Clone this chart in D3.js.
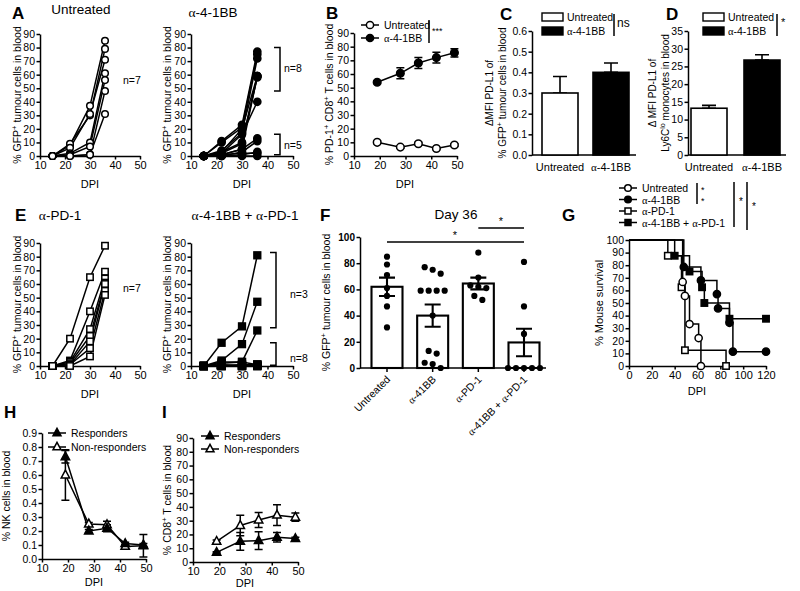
<!DOCTYPE html>
<html>
<head>
<meta charset="utf-8">
<script src="https://cdn.jsdelivr.net/npm/d3@7"></script>
<style>
  body { margin: 0; background: #fff; }
  svg { font-family: "Liberation Sans", Arial, sans-serif; }
</style>
</head>
<body>
<script>
// ---- data ----
const gfpDays = [15, 22, 30, 36];
const dpiTicks = [10, 20, 30, 40, 50];
const pctTicks = [0, 10, 20, 30, 40, 50, 60, 70, 80, 90];

const untreatedGfp = [
  [0, 8, 37, 85], [0, 9, 30, 79], [0, 6, 31, 71], [0, 2, 10, 61],
  [0, 1, 7, 56], [0, 0, 1, 48], [0, 0, 1, 31]
];
const a41bbGfp = [
  [0, 11, 23, 77], [0, 10, 21, 75], [0, 4, 17, 72], [0, 3, 20, 59],
  [0, 3, 10, 59], [0, 2, 9, 58], [0, 1, 5, 59], [0, 2, 16, 40],
  [0, 1, 5, 13], [0, 0, 3, 11], [0, 0, 1, 3], [0, 1, 2, 2], [0, 0, 0, 0]
];
const apd1Gfp = [
  [0, 20, 65, 88], [0, 4, 40, 69], [0, 3, 27, 64], [0, 2, 22, 61],
  [0, 1, 18, 60], [0, 1, 13, 55], [0, 0, 7, 52]
];
const comboGfp = [
  [0, 17, 29, 81], [0, 4, 16, 47], [0, 3, 3, 26], [0, 2, 3, 1],
  [0, 1, 0, 1], [0, 0, 1, 0], [0, 0, 0, 0], [0, 1, 0, 0],
  [0, 0, 0, 1], [0, 0, 1, 1], [0, 0, 0, 0]
];

const bloodDays = [19, 28, 35, 42, 49];
const pd1Untreated = [10, 6.5, 9, 5.5, 8];
const pd1UntreatedErr = [1, 0.8, 1, 0.8, 1];
const pd1A41bb = [54, 60.5, 68, 72, 75.5];
const pd1A41bbErr = [1, 4, 4, 4, 3];

const barGroups = ['Untreated', 'α-4-1BB'];
const pdl1Tumour = [0.30, 0.40];
const pdl1TumourErr = [0.08, 0.045];
const pdl1TumourTicks = [0, 0.1, 0.2, 0.3, 0.4, 0.5, 0.6];
const pdl1Mono = [13.2, 26.8];
const pdl1MonoErr = [0.8, 1.5];
const pdl1MonoTicks = [0, 5, 10, 15, 20, 25, 30, 35];

const day36Groups = ['Untreated', 'α-41BB', 'α-PD-1', 'α-41BB + α-PD-1'];
const day36Mean = [62, 40, 64.5, 19.5];
const day36Err = [7, 8.5, 4.5, 10.5];
const day36Points = [
  [85, 79, 71, 61, 55, 47, 31],
  [77, 75, 72, 59, 59, 59, 59, 40, 13, 11, 4, 3, 0],
  [88, 69, 63, 62, 61, 55, 52],
  [81, 47, 26, 0, 0, 0, 0, 0]
];
const day36Ticks = [0, 20, 40, 60, 80, 100];

const survTicks = [0, 20, 40, 60, 80, 100, 120];
const survPctTicks = [0, 10, 20, 30, 40, 50, 60, 70, 80, 90, 100];
const survUntreated = [[0, 100], [47, 66.7], [49, 55.6], [53, 33.3], [61, 22.2], [63, 0]];
const survA41bb = [[0, 100], [48, 78.6], [63, 67.9], [77, 57.1], [78, 45.7], [88, 34.3], [91, 11.4], [120, 11.4]];
const survApd1 = [[0, 100], [34, 87.5], [46, 62.5], [49, 12.5], [85, 0]];
const survCombo = [[0, 100], [40, 87.5], [53, 75], [64, 62.5], [66, 50], [88, 37.5], [120, 37.5]];

const nkTicks = [0, 0.1, 0.2, 0.3, 0.4, 0.5, 0.6, 0.7, 0.8, 0.9];
const nkResp = [0.73, 0.20, 0.22, 0.11, 0.10];
const nkRespErr = [0.045, 0.01, 0.025, 0.01, 0.01];
const nkNon = [0.60, 0.25, 0.245, 0.09, 0.095];
const nkNonErr = [0.18, 0.01, 0.025, 0.015, 0.08];

const cd8Resp = [7, 15, 15.5, 18, 17];
const cd8RespErr = [0.5, 6.5, 6.5, 3.5, 1];
const cd8Non = [15, 26.5, 30.5, 34, 32.5];
const cd8NonErr = [1, 7.5, 5.5, 7.5, 3];

// ---- drawing helpers ----
const ink = '#000';
const small = 10.5;
const lw = 1.5;
const svg = d3.select('body').append('svg').attr('width', 800).attr('height', 591);

function txt(g, x, y, s, size, anchor, weight) {
  const t = g.append('text').attr('x', x).attr('y', y).attr('font-size', size)
    .attr('text-anchor', anchor || 'start').attr('fill', ink);
  if (weight) t.attr('font-weight', weight);
  s.split(/(α)/).forEach(p => {
    if (!p) return;
    const ts = t.append('tspan').text(p);
    if (p === 'α') ts.attr('font-family', '"Liberation Serif", serif');
  });
  return t;
}

// parts starting with ^ are superscript
function rich(g, x, y, parts, size, rotate) {
  const t = g.append('text').attr('font-size', size).attr('text-anchor', 'middle').attr('fill', ink)
    .attr('transform', `translate(${x},${y})` + (rotate ? ' rotate(-90)' : ''));
  let shift = 0;
  parts.forEach(p => {
    const sup = p.startsWith('^');
    const s = sup ? p.slice(1) : p;
    const target = sup ? -0.38 * size : 0;
    const ts = t.append('tspan').text(s).attr('dy', target - shift);
    if (sup) ts.attr('font-size', size * 0.72);
    shift = target;
  });
  return t;
}

function styleAxis(a, size, weight) {
  a.attr('font-family', null).attr('font-size', null);
  a.select('.domain').attr('stroke', ink).attr('stroke-width', lw);
  a.selectAll('.tick line').attr('stroke', ink).attr('stroke-width', lw);
  a.selectAll('.tick text').attr('font-size', size || small).attr('fill', ink).attr('font-weight', weight || null);
}

function yAxis(g, o, y) {
  const a = g.append('g').attr('transform', `translate(${o.left},0)`)
    .call(d3.axisLeft(y).tickValues(o.yTicks).tickFormat(o.yFormat || d3.format('d'))
      .tickSize(3.5).tickSizeOuter(0).tickPadding(1.5));
  styleAxis(a, o.yFont, o.yWeight);
}

function frame(o) {
  const g = svg.append('g');
  const x = d3.scaleLinear().domain(o.xDomain).range([o.left, o.right]);
  const y = d3.scaleLinear().domain(o.yDomain).range([o.bottom, o.top]);
  yAxis(g, o, y);
  const xa = g.append('g').attr('transform', `translate(0,${o.bottom})`)
    .call(d3.axisBottom(x).tickValues(o.xTicks).tickSize(3.5).tickSizeOuter(0).tickPadding(2));
  styleAxis(xa, 11);
  return { g, x, y };
}

function mark(g, shape, filled, cx, cy, r) {
  let m;
  if (shape === 'circle') {
    m = g.append('circle').attr('cx', cx).attr('cy', cy).attr('r', r);
  } else if (shape === 'square') {
    m = g.append('rect').attr('x', cx - r).attr('y', cy - r).attr('width', 2 * r).attr('height', 2 * r);
  } else {
    m = g.append('path').attr('d', `M${cx},${cy - r * 1.15}L${cx + r},${cy + r * 0.7}L${cx - r},${cy + r * 0.7}Z`);
  }
  m.attr('fill', filled ? ink : '#fff').attr('stroke', ink).attr('stroke-width', 1.5);
}

function errBar(g, cx, y0, y1, half, w) {
  g.append('path').attr('d', `M${cx},${y0}V${y1}M${cx - half},${y0}H${cx + half}M${cx - half},${y1}H${cx + half}`)
    .attr('fill', 'none').attr('stroke', ink).attr('stroke-width', w || lw);
}

function legendRow(g, x, y, shape, filled, r, label) {
  g.append('line').attr('x1', x - 9).attr('x2', x + 9).attr('y1', y).attr('y2', y)
    .attr('stroke', ink).attr('stroke-width', lw);
  mark(g, shape, filled, x, y, r);
  txt(g, x + 14, y + 4, label, small);
}

function sigBar(g, x, y0, y1, label, lx, ly, size) {
  g.append('line').attr('x1', x).attr('x2', x).attr('y1', y0).attr('y2', y1).attr('stroke', ink).attr('stroke-width', lw);
  txt(g, lx, ly, label, size || 10);
}

function bracket(g, x, y0, y1) {
  g.append('path').attr('d', `M${x - 6},${y0}H${x}V${y1}H${x - 6}`)
    .attr('fill', 'none').attr('stroke', ink).attr('stroke-width', lw);
}

const gfpLabel = ['% GFP', '^+', ' tumour cells in blood'];

function spaghetti(o, mice, shape, filled, r) {
  const f = frame(Object.assign({ xDomain: [10, 50], yDomain: [0, 90], xTicks: dpiTicks, yTicks: pctTicks }, o));
  const line = d3.line().x((d, i) => f.x(gfpDays[i])).y(d => f.y(d));
  mice.forEach(m => f.g.append('path').attr('d', line(m)).attr('fill', 'none').attr('stroke', ink).attr('stroke-width', lw));
  mice.forEach(m => m.forEach((v, i) => mark(f.g, shape, filled, f.x(gfpDays[i]), f.y(v), r)));
  rich(f.g, o.labelX, (o.top + o.bottom) / 2, gfpLabel, small, true);
  txt(f.g, (o.left + o.right) / 2, o.bottom + 32, 'DPI', 11, 'middle');
  return f;
}

function meanLines(f, series) {
  series.forEach(s => {
    const line = d3.line().x((d, i) => f.x(bloodDays[i])).y(d => f.y(d));
    f.g.append('path').attr('d', line(s.v)).attr('fill', 'none').attr('stroke', ink).attr('stroke-width', lw);
    s.v.forEach((v, i) => errBar(f.g, f.x(bloodDays[i]), f.y(v - s.e[i]), f.y(v + s.e[i]), 4));
  });
  series.forEach(s => s.v.forEach((v, i) => mark(f.g, s.shape, s.filled, f.x(bloodDays[i]), f.y(v), s.r)));
}

// ---- A ----
txt(svg, 12, 19, 'A', 17, 'start', 'bold');
txt(svg, 81, 14, 'Untreated', 13.5, 'middle');
txt(svg, 213, 17, 'α-4-1BB', 13.5, 'middle');
spaghetti({ left: 40, right: 140, top: 34, bottom: 156, labelX: 21 }, untreatedGfp, 'circle', false, 3.3);
txt(svg, 123, 84, 'n=7', small);
{
  const f = spaghetti({ left: 191, right: 293, top: 34, bottom: 156, labelX: 171 }, a41bbGfp, 'circle', true, 3.6);
  bracket(f.g, 280, f.y(80), f.y(48));
  bracket(f.g, 280, f.y(16), f.y(1));
  txt(f.g, 284, 72, 'n=8', small);
  txt(f.g, 284, 149, 'n=5', small);
}

// ---- B ----
txt(svg, 326, 19, 'B', 17, 'start', 'bold');
{
  const o = { left: 354, right: 457, top: 33, bottom: 156, xDomain: [10, 50], yDomain: [0, 90], xTicks: dpiTicks, yTicks: pctTicks };
  const f = frame(o);
  meanLines(f, [
    { v: pd1Untreated, e: pd1UntreatedErr, shape: 'circle', filled: false, r: 3.8 },
    { v: pd1A41bb, e: pd1A41bbErr, shape: 'circle', filled: true, r: 3.8 }
  ]);
  rich(f.g, 333, (o.top + o.bottom) / 2, ['% PD-1', '^+', ' CD8', '^+', ' T cells in blood'], small, true);
  txt(f.g, 405, 188, 'DPI', 11, 'middle');
  legendRow(f.g, 370, 25, 'circle', false, 3.6, 'Untreated');
  legendRow(f.g, 370, 38, 'circle', true, 3.6, 'α-4-1BB');
  sigBar(f.g, 429, 20, 43, '***', 432, 34, 9);
}

// ---- C & D (bar pairs) ----
function barPair(o, vals, errs) {
  const g = svg.append('g');
  const x = d3.scalePoint().domain(barGroups).range(o.centers);
  const y = d3.scaleLinear().domain(o.yDomain).range([o.bottom, o.top]);
  yAxis(g, o, y);
  g.append('line').attr('x1', o.left).attr('x2', o.right).attr('y1', o.bottom).attr('y2', o.bottom)
    .attr('stroke', ink).attr('stroke-width', lw);
  barGroups.forEach((gr, i) => {
    const cx = x(gr);
    errBar(g, cx, y(vals[i]), y(vals[i] + errs[i]), 7, 1.6);
    g.append('rect').attr('x', cx - 18).attr('width', 36).attr('y', y(vals[i])).attr('height', o.bottom - y(vals[i]))
      .attr('fill', i ? ink : '#fff').attr('stroke', ink).attr('stroke-width', 1.6);
    txt(g, cx, o.bottom + 16, gr, 11, 'middle');
  });
  barGroups.forEach((gr, i) => {
    g.append('rect').attr('x', o.legX).attr('y', 13 + i * 14).attr('width', 21).attr('height', 8)
      .attr('fill', i ? ink : '#fff').attr('stroke', ink).attr('stroke-width', 1.4);
    txt(g, o.legX + 25, 21 + i * 14, gr, small);
  });
  return { g, x, y };
}

txt(svg, 500, 20, 'C', 17, 'start', 'bold');
{
  const o = { left: 532, right: 636, top: 31, bottom: 155, centers: [560, 611], yDomain: [0, 0.6], yTicks: pdl1TumourTicks, yFormat: d3.format('.1f'), legX: 542 };
  const f = barPair(o, pdl1Tumour, pdl1TumourErr);
  txt(f.g, 493, 0, 'ΔMFI PD-L1 of', 10, 'middle').attr('transform', `rotate(-90,493,0) translate(${-93},0)`);
  rich(f.g, 506, 93, gfpLabel, 10, true);
  sigBar(f.g, 614, 14, 36, 'ns', 617, 27, 12);
}

txt(svg, 666, 20, 'D', 17, 'start', 'bold');
{
  const o = { left: 688, right: 786, top: 31, bottom: 155, centers: [709, 762], yDomain: [0, 35], yTicks: pdl1MonoTicks, legX: 703 };
  const f = barPair(o, pdl1Mono, pdl1MonoErr);
  txt(f.g, 656, 0, 'Δ MFI PD-L1 of', 10, 'middle').attr('transform', `rotate(-90,656,0) translate(${-93},0)`);
  rich(f.g, 669, 93, ['Ly6C', '^lo', ' monocytes in blood'], 10, true);
  sigBar(f.g, 777, 14, 36, '*', 781, 26, 11);
}

// ---- E ----
txt(svg, 15, 221, 'E', 17, 'start', 'bold');
txt(svg, 60, 220, 'α-PD-1', 13.5, 'middle');
txt(svg, 245, 220, 'α-4-1BB + α-PD-1', 13.5, 'middle');
spaghetti({ left: 40, right: 140, top: 243, bottom: 366, labelX: 21 }, apd1Gfp, 'square', false, 3.2);
txt(svg, 123, 292, 'n=7', small);
{
  const f = spaghetti({ left: 191, right: 293, top: 243, bottom: 366, labelX: 171 }, comboGfp, 'square', true, 3.4);
  bracket(f.g, 276, f.y(83), f.y(28));
  bracket(f.g, 276, f.y(17), f.y(0.5));
  txt(f.g, 290, 298, 'n=3', small);
  txt(f.g, 290, 362, 'n=8', small);
}

// ---- F ----
txt(svg, 320, 221, 'F', 17, 'start', 'bold');
txt(svg, 456, 219, 'Day 36', 13.5, 'middle');
{
  const o = { left: 360, right: 546, top: 237, bottom: 368, yDomain: [0, 100], yTicks: day36Ticks, yWeight: 'bold', yFont: 10 };
  const g = svg.append('g');
  const x = d3.scalePoint().domain(day36Groups).range([387, 524]);
  const y = d3.scaleLinear().domain(o.yDomain).range([o.bottom, o.top]);
  yAxis(g, o, y);
  g.append('line').attr('x1', o.left).attr('x2', o.right).attr('y1', o.bottom).attr('y2', o.bottom)
    .attr('stroke', ink).attr('stroke-width', 1.6);
  day36Groups.forEach((gr, i) => {
    const cx = x(gr);
    g.append('rect').attr('x', cx - 15.5).attr('width', 31).attr('y', y(day36Mean[i])).attr('height', o.bottom - y(day36Mean[i]))
      .attr('fill', '#fff').attr('stroke', ink).attr('stroke-width', 2.1);
    g.append('line').attr('x1', cx).attr('x2', cx).attr('y1', o.bottom).attr('y2', o.bottom + 4).attr('stroke', ink).attr('stroke-width', lw);
    // simple swarm: points closer than a dot diameter share a centred row
    const r = 3.1, step = 8;
    const rows = [];
    day36Points[i].slice().sort((a, b) => b - a).forEach(v => {
      const py = y(v);
      const row = rows[rows.length - 1];
      if (row && py - row[0] < 2 * r + 1) row.push(py); else rows.push([py]);
    });
    rows.forEach(row => row.forEach((py, k) => {
      g.append('circle').attr('cx', cx + (k - (row.length - 1) / 2) * step).attr('cy', py).attr('r', r).attr('fill', ink);
    }));
    errBar(g, cx, y(day36Mean[i] - day36Err[i]), y(day36Mean[i] + day36Err[i]), 8, 2.1);
    const lx = cx + 4, ly = o.bottom + 12;
    txt(g, lx, ly, gr, small, 'end').attr('transform', `rotate(-45,${lx},${ly})`);
  });
  rich(g, 330, (o.top + o.bottom) / 2, gfpLabel, small, true);
  g.append('line').attr('x1', x(day36Groups[0])).attr('x2', x(day36Groups[3])).attr('y1', 242).attr('y2', 242).attr('stroke', ink).attr('stroke-width', lw);
  g.append('line').attr('x1', x(day36Groups[2])).attr('x2', x(day36Groups[3])).attr('y1', 228).attr('y2', 228).attr('stroke', ink).attr('stroke-width', lw);
  txt(g, 455, 239, '*', 11, 'middle');
  txt(g, 501, 225, '*', 11, 'middle');
}

// ---- G ----
txt(svg, 562, 221, 'G', 17, 'start', 'bold');
{
  const o = { left: 629, right: 766, top: 240, bottom: 366, xDomain: [0, 120], yDomain: [0, 100], xTicks: survTicks, yTicks: survPctTicks };
  const f = frame(o);
  const step = d3.line().curve(d3.curveStepAfter).x(d => f.x(d[0])).y(d => f.y(d[1]));
  const curves = [
    { pts: survCombo, shape: 'square', filled: true, r: 3.2 },
    { pts: survA41bb, shape: 'circle', filled: true, r: 3.6 },
    { pts: survApd1, shape: 'square', filled: false, r: 3.2 },
    { pts: survUntreated, shape: 'circle', filled: false, r: 3.6 }
  ];
  curves.forEach(c => f.g.append('path').attr('d', step(c.pts)).attr('fill', 'none').attr('stroke', ink).attr('stroke-width', lw));
  curves.forEach(c => c.pts.slice(1).forEach(p => mark(f.g, c.shape, c.filled, f.x(p[0]), f.y(p[1]), c.r)));
  rich(f.g, 603, (o.top + o.bottom) / 2, ['% Mouse survival'], 11, true);
  txt(f.g, 697, 395, 'DPI', 11, 'middle');
  legendRow(f.g, 628, 188, 'circle', false, 3.3, 'Untreated');
  legendRow(f.g, 628, 199.5, 'circle', true, 3.3, 'α-4-1BB');
  legendRow(f.g, 628, 211, 'square', false, 3, 'α-PD-1');
  legendRow(f.g, 628, 222.5, 'square', true, 3, 'α-4-1BB + α-PD-1');
  sigBar(f.g, 697, 183, 204, '*', 701, 193, 9);
  txt(f.g, 701, 204, '*', 9);
  sigBar(f.g, 734, 182, 227, '*', 739, 205, 10);
  sigBar(f.g, 747, 182, 230, '*', 752, 210, 10);
}

// ---- H ----
txt(svg, 4, 418, 'H', 17, 'start', 'bold');
{
  const o = { left: 42, right: 146, top: 433, bottom: 559, xDomain: [10, 50], yDomain: [0, 0.9], xTicks: dpiTicks, yTicks: nkTicks, yFormat: d3.format('.1f') };
  const f = frame(o);
  meanLines(f, [
    { v: nkNon, e: nkNonErr, shape: 'triangle', filled: false, r: 4.2 },
    { v: nkResp, e: nkRespErr, shape: 'triangle', filled: true, r: 4.2 }
  ]);
  rich(f.g, 10, (o.top + o.bottom) / 2, ['% NK cells in blood'], small, true);
  txt(f.g, 94, 586, 'DPI', 11, 'middle');
  legendRow(f.g, 57, 433, 'triangle', true, 4, 'Responders');
  legendRow(f.g, 57, 447, 'triangle', false, 4, 'Non-responders');
}

// ---- I ----
txt(svg, 162, 418, 'I', 17, 'start', 'bold');
{
  const o = { left: 193, right: 298, top: 438, bottom: 562, xDomain: [10, 50], yDomain: [0, 90], xTicks: dpiTicks, yTicks: pctTicks };
  const f = frame(o);
  meanLines(f, [
    { v: cd8Non, e: cd8NonErr, shape: 'triangle', filled: false, r: 4.2 },
    { v: cd8Resp, e: cd8RespErr, shape: 'triangle', filled: true, r: 4.2 }
  ]);
  rich(f.g, 171, (o.top + o.bottom) / 2, ['% CD8', '^+', ' T cells in blood'], small, true);
  txt(f.g, 245, 587, 'DPI', 11, 'middle');
  legendRow(f.g, 210, 436, 'triangle', true, 4, 'Responders');
  legendRow(f.g, 210, 449, 'triangle', false, 4, 'Non-responders');
}
</script>
</body>
</html>
